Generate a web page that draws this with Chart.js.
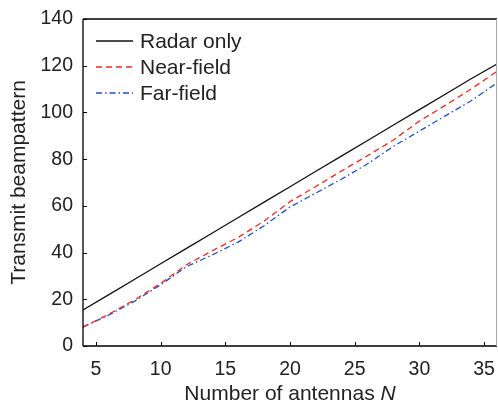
<!DOCTYPE html>
<html>
<head>
<meta charset="utf-8">
<script src="https://cdn.jsdelivr.net/npm/chart.js@4/dist/chart.umd.min.js"></script>
<style>
  html, body { margin: 0; padding: 0; background: #fff; }
  #wrap { width: 498px; height: 406px; }
</style>
</head>
<body>
<div id="wrap"><canvas id="c" width="498" height="406"></canvas></div>
<script>
// ---- data ----
const antennas = [4, 6, 8, 10, 12, 14, 16, 18, 20, 22, 24, 26, 28, 30, 32, 34, 36];
const radarOnly = [15.4, 22.0, 28.6, 35.2, 41.8, 48.4, 55.0, 61.6, 68.2, 74.8, 81.4, 88.0, 94.6, 101.2, 107.8, 114.4, 120.7];
const nearField = [8.1, 13.6, 19.8, 26.8, 34.8, 40.8, 46.5, 53.5, 61.8, 68.3, 75.0, 81.5, 88.2, 96.3, 103.0, 110.0, 117.6];
const farField  = [8.1, 13.3, 19.2, 26.2, 34.0, 39.0, 44.5, 51.5, 59.5, 65.5, 71.5, 78.0, 85.5, 92.0, 98.5, 105.0, 112.6];
const xTicks = [5, 10, 15, 20, 25, 30, 35];
const yTicks = [0, 20, 40, 60, 80, 100, 120, 140];
const seriesNames = ['Radar only', 'Near-field', 'Far-field'];

const FONT = "'Liberation Sans', Arial, Helvetica, sans-serif";

function pts(ys) { return antennas.map((x, i) => ({ x: x, y: ys[i] })); }

const framePlugin = {
  id: 'frame',
  afterDraw(chart) {
    const ctx = chart.ctx;
    const a = chart.chartArea;
    const xs = chart.scales.x, ys = chart.scales.y;
    ctx.save();
    // frame
    ctx.strokeStyle = '#000';
    ctx.lineWidth = 1.3;
    ctx.beginPath();
    ctx.moveTo(a.left, a.top); ctx.lineTo(a.right, a.top);
    ctx.moveTo(a.left, a.top); ctx.lineTo(a.left, a.bottom);
    ctx.moveTo(a.left, a.bottom); ctx.lineTo(a.right, a.bottom);
    ctx.stroke();
    ctx.strokeStyle = '#aaa';
    ctx.lineWidth = 1;
    ctx.beginPath();
    ctx.moveTo(a.right - 0.5, a.top); ctx.lineTo(a.right - 0.5, a.bottom);
    ctx.stroke();
    // inward ticks
    ctx.strokeStyle = '#000';
    ctx.lineWidth = 1;
    ctx.beginPath();
    xTicks.forEach(v => {
      const px = Math.round(xs.getPixelForValue(v)) + 0.5;
      ctx.moveTo(px, a.bottom); ctx.lineTo(px, a.bottom - 4);
    });
    yTicks.forEach(v => {
      const py = Math.round(ys.getPixelForValue(v)) + 0.5;
      ctx.moveTo(a.left, py); ctx.lineTo(a.left + 4, py);
    });
    ctx.stroke();

    // x title with italic N
    ctx.fillStyle = '#222';
    ctx.textBaseline = 'alphabetic';
    const t1 = 'Number of antennas ';
    const t2 = 'N';
    ctx.font = '21px ' + FONT;
    const w1 = ctx.measureText(t1).width;
    ctx.font = 'italic 21px ' + FONT;
    const w2 = ctx.measureText(t2).width;
    const cx = (a.left + a.right) / 2;
    let sx = cx - (w1 + w2) / 2;
    ctx.font = '21px ' + FONT;
    ctx.fillText(t1, sx, 400);
    ctx.font = 'italic 21px ' + FONT;
    ctx.fillText(t2, sx + w1, 400);

    // y title
    ctx.save();
    ctx.translate(25, (a.top + a.bottom) / 2);
    ctx.rotate(-Math.PI / 2);
    ctx.font = '21px ' + FONT;
    ctx.textAlign = 'center';
    ctx.fillText('Transmit beampattern', 0, 0);
    ctx.restore();

    // legend
    const ds = chart.data.datasets;
    const lx0 = a.left + 13, lx1 = a.left + 50, tx = a.left + 57;
    ds.forEach((d, i) => {
      const y = a.top + 22 + i * 26;
      ctx.strokeStyle = d.borderColor;
      ctx.lineWidth = d.borderWidth;
      ctx.setLineDash(d.borderDash || []);
      ctx.beginPath();
      ctx.moveTo(lx0, y); ctx.lineTo(lx1, y);
      ctx.stroke();
      ctx.setLineDash([]);
      ctx.fillStyle = '#222';
      ctx.font = '21px ' + FONT;
      ctx.textBaseline = 'middle';
      ctx.textAlign = 'left';
      ctx.fillText(d.label, tx, y + 1);
    });
    ctx.restore();
  }
};

new Chart(document.getElementById('c'), {
  type: 'line',
  data: {
    datasets: [
      { label: seriesNames[0], data: pts(radarOnly), borderColor: '#111', borderWidth: 1.3, pointRadius: 0, tension: 0, fill: false },
      { label: seriesNames[1], data: pts(nearField), borderColor: '#f02828', borderWidth: 1.3, borderDash: [6, 4], pointRadius: 0, tension: 0, fill: false },
      { label: seriesNames[2], data: pts(farField), borderColor: '#2250c0', borderWidth: 1.3, borderDash: [6, 3, 1.5, 3], pointRadius: 0, tension: 0, fill: false }
    ]
  },
  options: {
    responsive: false,
    animation: false,
    layout: { padding: { top: 19, right: 1, left: 0, bottom: 0 } },
    plugins: { legend: { display: false }, tooltip: { enabled: false } },
    scales: {
      x: {
        type: 'linear', min: 4, max: 36,
        afterBuildTicks: s => { s.ticks = xTicks.map(v => ({ value: v })); },
        afterFit: s => { s.height = 60; s.paddingLeft = 0; s.paddingRight = 0; },
        grid: { display: false, drawTicks: false },
        border: { display: false },
        ticks: { font: { family: FONT, size: 19.5 }, color: '#222', padding: 12, maxRotation: 0 }
      },
      y: {
        type: 'linear', min: 0, max: 140,
        afterBuildTicks: s => { s.ticks = yTicks.map(v => ({ value: v })); },
        afterFit: s => { s.width = 83; s.paddingTop = 0; s.paddingBottom = 0; },
        grid: { display: false, drawTicks: false },
        border: { display: false },
        ticks: { font: { family: FONT, size: 19.5 }, color: '#222', padding: 10 }
      }
    }
  },
  plugins: [framePlugin]
});
</script>
</body>
</html>
